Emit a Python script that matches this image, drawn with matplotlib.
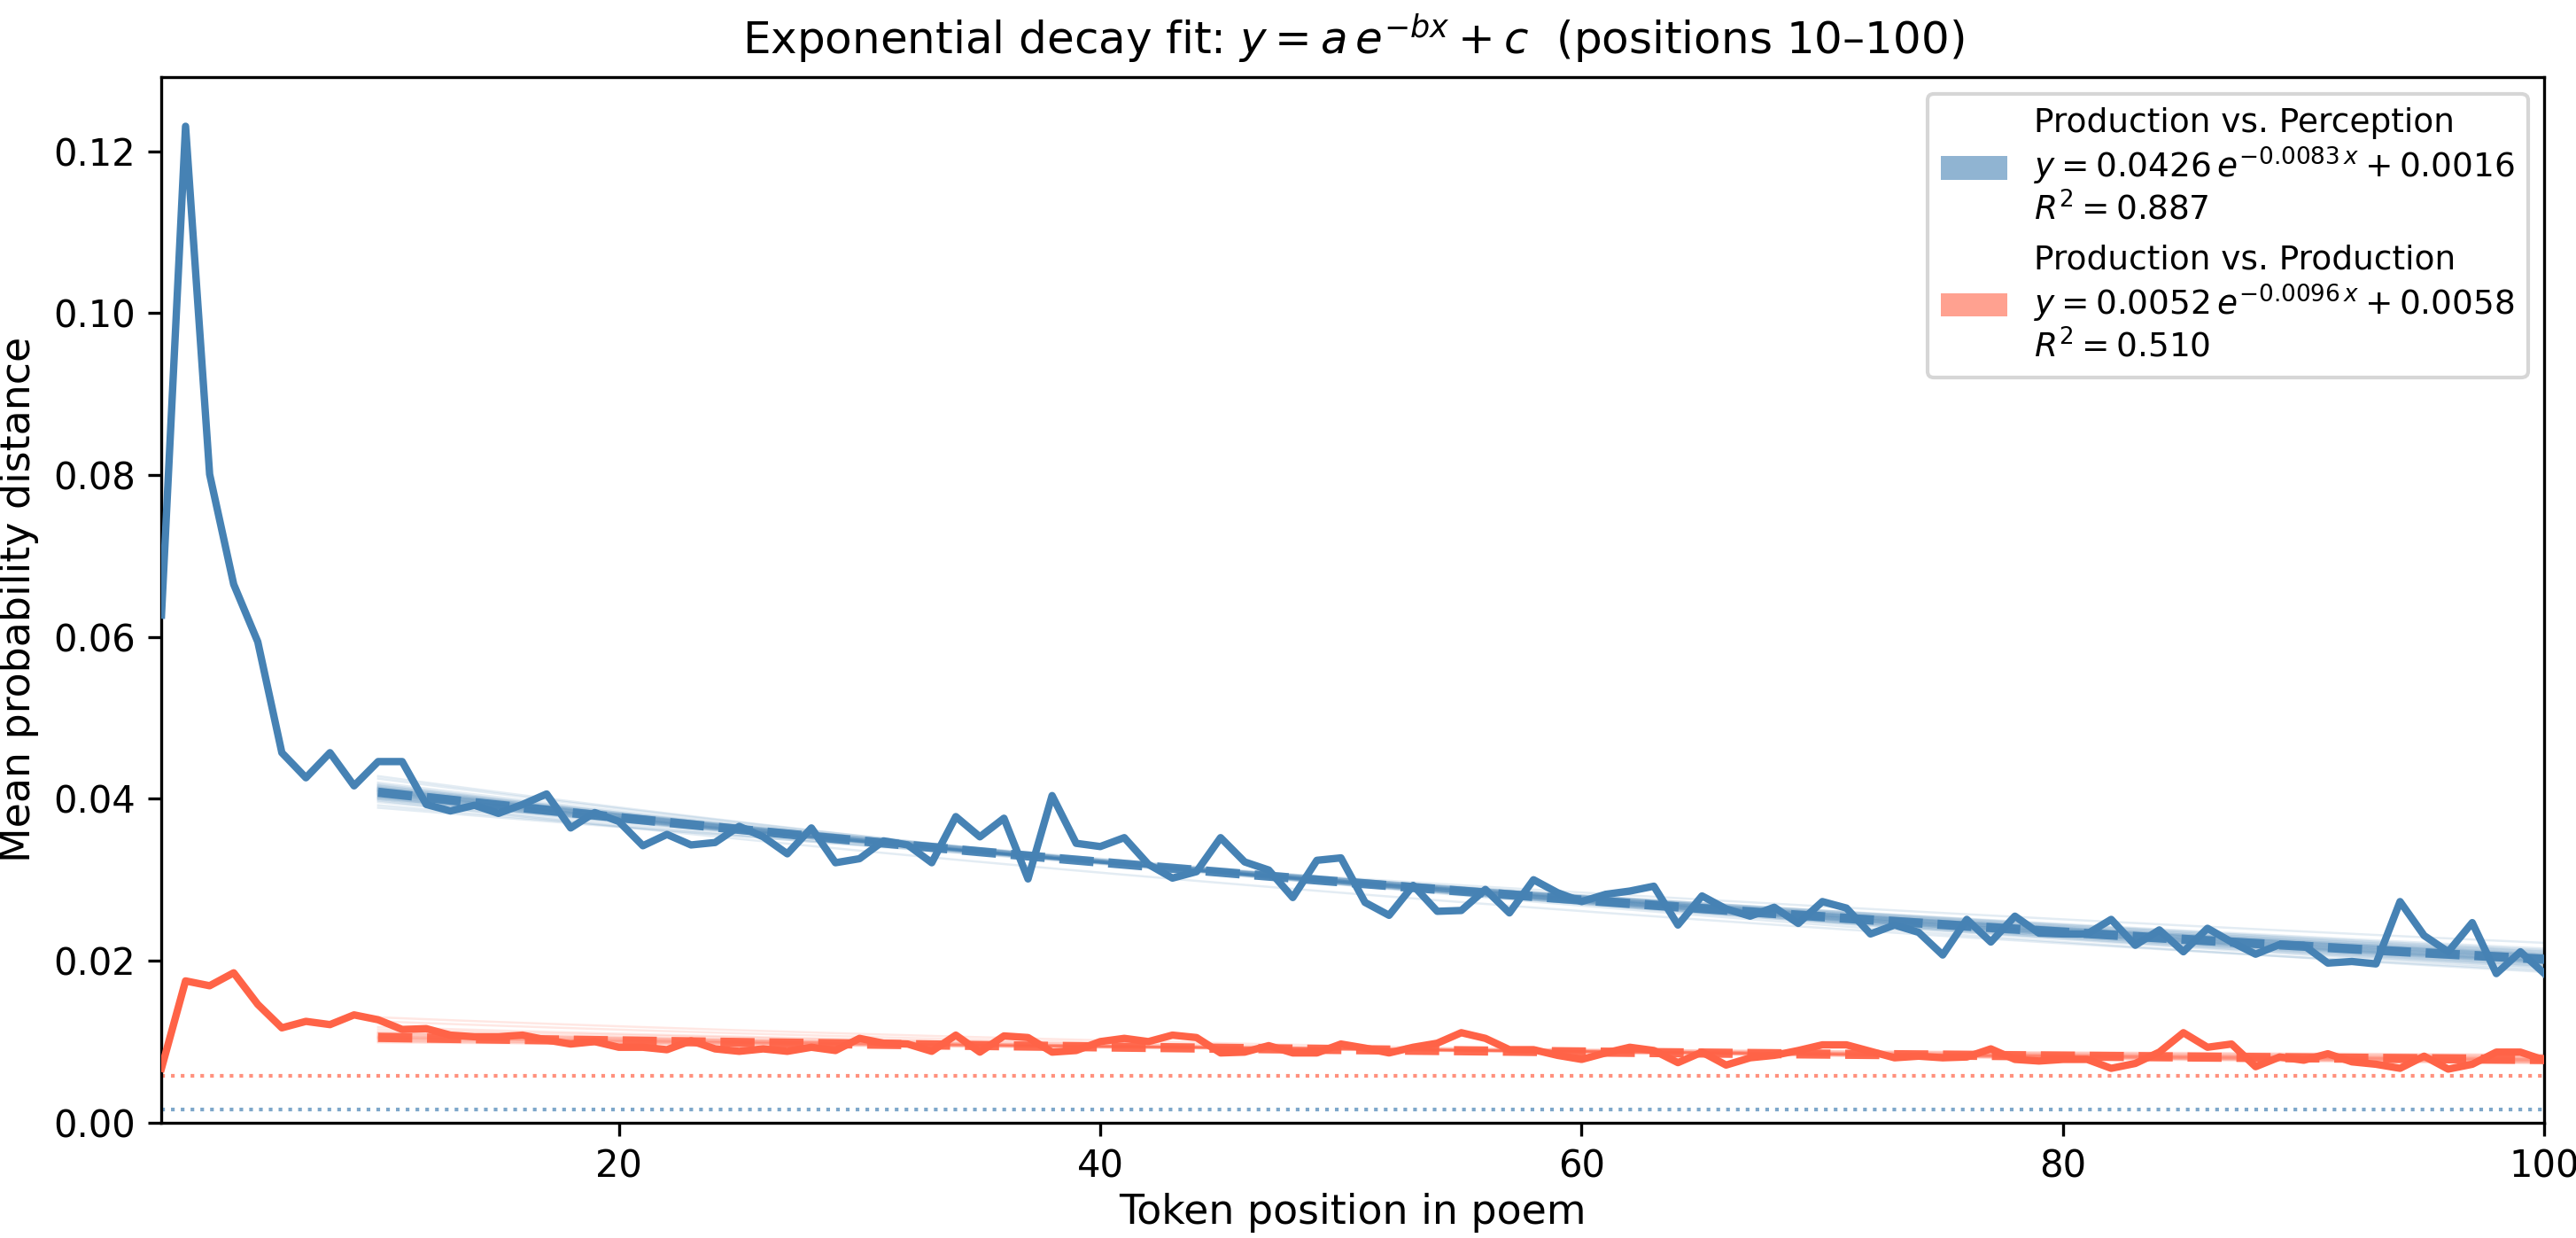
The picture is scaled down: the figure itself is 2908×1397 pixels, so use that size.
import numpy as np
import matplotlib
matplotlib.use("Agg")
import matplotlib.pyplot as plt
from matplotlib.patches import Patch

# ---------------- data ----------------
positions = list(range(1, 101))

perception_mean = [
    0.0627, 0.1231, 0.0801, 0.0665, 0.0594, 0.0457, 0.0426, 0.0457, 0.0416, 0.0446,
    0.0446, 0.0393, 0.0385, 0.0392, 0.0382, 0.0393, 0.0406, 0.0364, 0.0383, 0.0372,
    0.0342, 0.0356, 0.0343, 0.0346, 0.0366, 0.0353, 0.0332, 0.0364, 0.0321, 0.0326,
    0.0348, 0.0343, 0.0321, 0.0378, 0.0353, 0.0376, 0.0301, 0.0404, 0.0345, 0.0341,
    0.0352, 0.0319, 0.0302, 0.0310, 0.0352, 0.0322, 0.0312, 0.0278, 0.0324, 0.0327,
    0.0272, 0.0256, 0.0293, 0.0261, 0.0262, 0.0288, 0.0259, 0.0300, 0.0284, 0.0273,
    0.0282, 0.0286, 0.0292, 0.0244, 0.0280, 0.0264, 0.0255, 0.0266, 0.0246, 0.0273,
    0.0265, 0.0233, 0.0244, 0.0235, 0.0207, 0.0251, 0.0223, 0.0255, 0.0234, 0.0233,
    0.0233, 0.0251, 0.0219, 0.0238, 0.0211, 0.0240, 0.0223, 0.0208, 0.0220, 0.0219,
    0.0197, 0.0199, 0.0196, 0.0273, 0.0231, 0.0211, 0.0247, 0.0184, 0.0211, 0.0184,
]

production_mean = [
    0.0067, 0.0175, 0.0169, 0.0185, 0.0146, 0.0117, 0.0125, 0.0121, 0.0133, 0.0127,
    0.0115, 0.0116, 0.0108, 0.0106, 0.0106, 0.0108, 0.0102, 0.0097, 0.0100, 0.0093,
    0.0093, 0.0090, 0.0101, 0.0091, 0.0088, 0.0091, 0.0088, 0.0093, 0.0089, 0.0104,
    0.0098, 0.0097, 0.0088, 0.0108, 0.0087, 0.0107, 0.0105, 0.0087, 0.0089, 0.0100,
    0.0104, 0.0100, 0.0108, 0.0105, 0.0086, 0.0087, 0.0095, 0.0086, 0.0086, 0.0097,
    0.0092, 0.0086, 0.0093, 0.0098, 0.0111, 0.0104, 0.0090, 0.0090, 0.0083, 0.0078,
    0.0086, 0.0093, 0.0089, 0.0074, 0.0087, 0.0071, 0.0080, 0.0083, 0.0089, 0.0096,
    0.0096, 0.0088, 0.0080, 0.0082, 0.0080, 0.0081, 0.0091, 0.0078, 0.0076, 0.0078,
    0.0078, 0.0067, 0.0073, 0.0087, 0.0111, 0.0093, 0.0097, 0.0069, 0.0081, 0.0077,
    0.0085, 0.0075, 0.0072, 0.0067, 0.0082, 0.0066, 0.0072, 0.0087, 0.0087, 0.0077,
]

# fitted parameters (from the legend) : y = a*exp(-b*x) + c, fitted on positions 10-100
fit_range = (10, 100)
perception_fit = {"a": 0.0426, "b": 0.0083, "c": 0.0016, "r2": 0.887}
production_fit = {"a": 0.0052, "b": 0.0096, "c": 0.0058, "r2": 0.510}

# bootstrap fit curves, described by their value at position 10 and at position 100
perception_boot_y10 = [0.0408, 0.0412, 0.0404, 0.0416, 0.0400, 0.0410, 0.0406, 0.0420,
                       0.0396, 0.0414, 0.0402, 0.0409, 0.0411, 0.0405, 0.0418, 0.0399,
                       0.0413, 0.0407, 0.0425, 0.0392, 0.0403, 0.0415, 0.0410, 0.0401,
                       0.0428, 0.0389, 0.0408, 0.0417, 0.0398, 0.0412, 0.0406, 0.0409,
                       0.0403, 0.0411, 0.0414, 0.0407, 0.0401, 0.0410, 0.0405, 0.0413]
perception_boot_y100 = [0.0202, 0.0198, 0.0206, 0.0200, 0.0209, 0.0196, 0.0204, 0.0194,
                        0.0211, 0.0201, 0.0207, 0.0199, 0.0205, 0.0203, 0.0192, 0.0213,
                        0.0197, 0.0208, 0.0190, 0.0215, 0.0210, 0.0195, 0.0203, 0.0212,
                        0.0186, 0.0222, 0.0200, 0.0193, 0.0188, 0.0206, 0.0204, 0.0201,
                        0.0207, 0.0199, 0.0197, 0.0203, 0.0208, 0.0200, 0.0205, 0.0198]
production_boot_y10 = [0.0105, 0.0108, 0.0102, 0.0112, 0.0100, 0.0106, 0.0118, 0.0104,
                       0.0110, 0.0125, 0.0103, 0.0107, 0.0115, 0.0101, 0.0109, 0.0130,
                       0.0104, 0.0106, 0.0099, 0.0111]
production_boot_y100 = [0.0078, 0.0076, 0.0080, 0.0075, 0.0081, 0.0078, 0.0074, 0.0079,
                        0.0077, 0.0073, 0.0082, 0.0078, 0.0076, 0.0083, 0.0077, 0.0074,
                        0.0080, 0.0079, 0.0084, 0.0076]

series_labels = ["Production vs. Perception", "Production vs. Production"]
colors = ["#4682B4", "#FF6347"]

# ---------------- figure ----------------
W, H, DPI = 2908, 1397, 300
fig = plt.figure(figsize=(W / DPI, H / DPI), dpi=DPI)
left, right, top, bottom = 182.3, 2872.4, 87.0, 1266.7
ax = fig.add_axes([left / W, 1 - bottom / H, (right - left) / W, (bottom - top) / H])

x = np.array(positions, dtype=float)
xf = np.linspace(fit_range[0], fit_range[1], 200)


def boot_curve(y10, y100, c):
    rate = np.log((y10 - c) / (y100 - c)) / (fit_range[1] - fit_range[0])
    return c + (y10 - c) * np.exp(-rate * (xf - fit_range[0]))


handles = []
for mean, fit, by10, by100, col, lab in [
    (perception_mean, perception_fit, perception_boot_y10, perception_boot_y100, colors[0], series_labels[0]),
    (production_mean, production_fit, production_boot_y10, production_boot_y100, colors[1], series_labels[1]),
]:
    for a0, a1 in zip(by10, by100):
        ax.plot(xf, boot_curve(a0, a1, fit["c"]), color=col, lw=0.6, alpha=0.15, zorder=1)
    ax.plot(x, mean, color=col, lw=2.0, zorder=3)
    yfit = fit["a"] * np.exp(-fit["b"] * xf) + fit["c"]
    ax.plot(xf, yfit, color=col, lw=2.5, ls="--", alpha=0.95, zorder=4)
    ax.axhline(fit["c"], color=col, lw=1.0, ls=":", alpha=0.7, zorder=2)
    label = (f"{lab}\n"
             f"$y = {fit['a']:.4f}\\,e^{{-{fit['b']:.4f}\\,x}} + {fit['c']:.4f}$\n"
             f"$R^2 = {fit['r2']:.3f}$")
    handles.append(Patch(facecolor=col, alpha=0.6, label=label))

ax.set_xlim(1, 100)
ax.set_ylim(bottom=0)
ax.set_xticks([20, 40, 60, 80, 100])
ax.tick_params(labelsize=10)
ax.set_xlabel("Token position in poem", fontsize=11, labelpad=2)
ax.set_ylabel("Mean probability distance", fontsize=11)
ax.set_title("Exponential decay fit: $y = a\\,e^{-bx} + c$  (positions 10–100)", fontsize=12)
ax.legend(handles=handles, loc="upper right", fontsize=9, framealpha=0.8)

fig.savefig("out.png", dpi=DPI)
